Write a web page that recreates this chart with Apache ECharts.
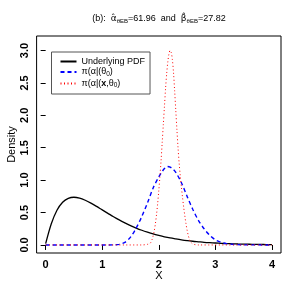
<!DOCTYPE html>
<html>
<head>
<meta charset="utf-8">
<script src="https://cdn.jsdelivr.net/npm/echarts@6/dist/echarts.min.js"></script>
<style>html,body{margin:0;padding:0;background:#fff}#c{width:300px;height:300px}</style>
</head>
<body>
<div id="c"></div>
<script>
// ---- data ----
var xTicks = [0, 1, 2, 3, 4];
var yTicks = [0, 0.5, 1, 1.5, 2, 2.5, 3];
var xTickLabels = ['0', '1', '2', '3', '4'];
var yTickLabels = ['0.0', '0.5', '1.0', '1.5', '2.0', '2.5', '3.0'];

var pdfX = [0.0,0.1,0.2,0.3,0.4,0.5,0.6,0.7,0.8,0.9,1.0,1.1,1.2,1.3,1.4,1.5,1.6,1.7,1.8,1.9,2.0,
            2.1,2.2,2.3,2.4,2.5,2.6,2.7,2.8,2.9,3.0,3.1,3.2,3.3,3.4,3.5,3.6,3.7,3.8,3.9,4.0];
var pdfY = [0.02,0.327,0.536,0.659,0.719,0.736,0.723,0.690,0.646,0.595,0.541,0.488,0.435,0.386,0.341,0.299,0.261,0.227,0.197,0.170,0.147,
            0.126,0.108,0.093,0.079,0.067,0.057,0.049,0.041,0.035,0.030,0.025,0.021,0.018,0.015,0.013,0.011,0.009,0.008,0.006,0.005];

var priorX = [0.0,0.5,1.0,1.2,1.3,1.4,1.5,1.6,1.7,1.8,1.9,2.0,2.05,2.1,2.15,2.2,2.25,2.3,2.4,2.5,2.6,2.7,2.8,2.9,3.0,3.1,3.2,3.3,3.4,3.5,4.0];
var priorY = [0,0,0,0.002,0.01,0.04,0.12,0.26,0.44,0.65,0.88,1.05,1.12,1.18,1.21,1.20,1.17,1.12,0.96,0.75,0.55,0.38,0.25,0.15,0.08,0.04,0.02,0.01,0.005,0.002,0];

var postX = [0.0,1.7,1.80,1.84,1.86,1.88,1.90,1.92,1.94,1.96,1.98,2.00,2.02,2.04,2.06,2.08,2.10,2.12,2.14,2.16,2.18,2.20,
             2.22,2.24,2.26,2.28,2.30,2.32,2.34,2.36,2.38,2.40,2.42,2.44,2.46,2.48,2.50,2.52,2.54,2.56,2.58,2.60,2.62,2.70,4.0];
var postY = [0,0,0.01,0.02,0.04,0.08,0.14,0.22,0.33,0.47,0.64,0.84,1.06,1.30,1.58,1.86,2.14,2.42,2.65,2.83,2.95,3.00,
             2.97,2.86,2.66,2.38,2.08,1.78,1.50,1.26,1.06,0.89,0.73,0.58,0.45,0.33,0.23,0.15,0.09,0.05,0.03,0.015,0.008,0,0];

var seriesNames = ['Underlying PDF', 'prior', 'post'];

function pairs(xs, ys) { return xs.map(function (x, i) { return [x, ys[i]]; }); }

var FONT = 'Liberation Sans, Arial, sans-serif';
var chart = echarts.init(document.getElementById('c'), null, {renderer: 'canvas'});
chart.setOption({
  animation: false,
  backgroundColor: '#fff',
  grid: {left: 36.6, right: 19, top: 36, bottom: 47, show: true, borderColor: '#000', borderWidth: 1,
         backgroundColor: 'transparent', containLabel: false, outerBoundsMode: 'none'},
  xAxis: {
    type: 'value', min: -0.16, max: 4.16,
    name: 'X', nameLocation: 'middle', nameGap: 17, nameMoveOverlap: false,
    nameTextStyle: {fontFamily: FONT, fontSize: 11, color: '#000'},
    axisLine: {show: false},
    splitLine: {show: false},
    axisTick: {show: true, inside: false, length: 5, customValues: xTicks, lineStyle: {color: '#000', width: 1}},
    axisLabel: {customValues: xTicks, margin: 6, fontFamily: FONT, fontSize: 11, fontWeight: 'bold', color: '#000',
      formatter: function (v) { var i = xTicks.indexOf(v); return i >= 0 ? xTickLabels[i] : ''; }}
  },
  yAxis: {
    type: 'value', min: -0.124, max: 3.224,
    name: 'Density', nameLocation: 'middle', nameGap: 19, nameRotate: 90, nameMoveOverlap: false,
    nameTextStyle: {fontFamily: FONT, fontSize: 11, color: '#000'},
    axisLine: {show: false},
    splitLine: {show: false},
    axisTick: {show: true, inside: false, length: 5, customValues: yTicks, lineStyle: {color: '#000', width: 1}},
    axisLabel: {customValues: yTicks, rotate: 90, margin: 6, fontFamily: FONT, fontSize: 11, fontWeight: 'bold', color: '#000',
      formatter: function (v) { for (var i = 0; i < yTicks.length; i++) { if (Math.abs(yTicks[i] - v) < 1e-9) return yTickLabels[i]; } return ''; }}
  },
  legend: {
    show: true, orient: 'vertical', left: 51.5, top: 52,
    itemGap: 1.5, itemWidth: 16, itemHeight: 9,
    padding: [5, 5, 5, 8],
    borderColor: '#555', borderWidth: 1,
    itemStyle: {opacity: 0},
    data: seriesNames,
    textStyle: {fontFamily: FONT, fontSize: 9, color: '#000',
      rich: {n: {fontFamily: FONT, fontSize: 9, color: '#000'}, b: {fontFamily: FONT, fontSize: 9, fontWeight: 'bold', color: '#000'},
             s: {fontFamily: FONT, fontSize: 6.5, color: '#000', padding: [4, 0, 0, 0]}}},
    formatter: function (name) {
      if (name === 'prior') return '{n|π(α|(θ}{s|0}{n|)}';
      if (name === 'post') return '{n|π(α|(}{b|x}{n|,θ}{s|0}{n|)}';
      return '{n|' + name + '}';
    }
  },
  series: [
    {name: seriesNames[0], type: 'line', data: pairs(pdfX, pdfY), symbol: 'none', showSymbol: false, smooth: 0.3,
     lineStyle: {color: '#000', width: 1.3, type: 'solid'}, itemStyle: {color: '#000'}},
    {name: seriesNames[1], type: 'line', data: pairs(priorX, priorY), symbol: 'none', showSymbol: false, smooth: 0.3,
     lineStyle: {color: '#0000ff', width: 1.4, type: [4, 3]}, itemStyle: {color: '#0000ff'}},
    {name: seriesNames[2], type: 'line', data: pairs(postX, postY), symbol: 'none', showSymbol: false, smooth: 0.3,
     lineStyle: {color: '#ff0000', width: 1, type: [1, 2.5]}, itemStyle: {color: '#ff0000'}}
  ],
  graphic: [{
    type: 'text', x: 159, y: 19,
    style: {
      text: '{n|(b):  }{g|α̂}{s|θEB}{n|=61.96  and  }{g|β̂}{s|θEB}{n|=27.82}',
      align: 'center', verticalAlign: 'middle',
      rich: {
        n: {fontFamily: FONT, fontSize: 9, fill: '#000'},
        g: {fontFamily: 'DejaVu Sans', fontSize: 9, fill: '#000'},
        s: {fontFamily: FONT, fontSize: 6, fill: '#000', padding: [5, 0, 0, 0]}
      }
    }
  }]
});
</script>
</body>
</html>
